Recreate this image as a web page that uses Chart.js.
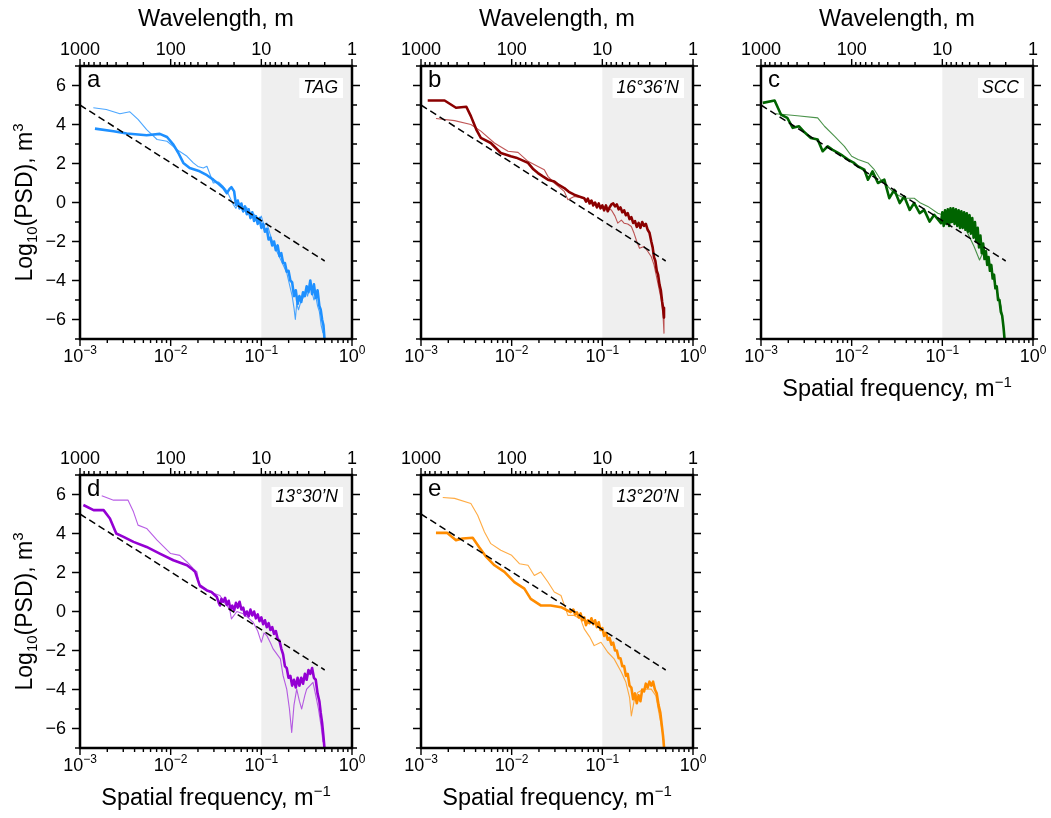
<!DOCTYPE html>
<html lang="en">
<head>
<meta charset="UTF-8">
<title>PSD spectra</title>
<script src="https://cdn.jsdelivr.net/npm/chart.js"></script>
<style>
  body { margin: 0; background: #fff; }
  #wrap { position: relative; width: 1051px; height: 818px; overflow: hidden; }
  canvas { position: absolute; }
</style>
</head>
<body>
<div id="wrap">
  <canvas id="pa" width="370" height="409" style="left:0;top:0"></canvas>
  <canvas id="pb" width="370" height="409" style="left:341px;top:0"></canvas>
  <canvas id="pc" width="370" height="409" style="left:681px;top:0"></canvas>
  <canvas id="pd" width="370" height="409" style="left:0;top:409px"></canvas>
  <canvas id="pe" width="370" height="409" style="left:341px;top:409px"></canvas>
</div>
<script>
// x values are log10 of spatial frequency (m^-1), y values are log10(PSD)
const refLogF = [-3, -0.301];
const refY = [5, -3];

const tagThickLogF = [-2.835,-2.63,-2.485,-2.265,-2.12,-2.04,-1.97,-1.915,-1.86,-1.79,-1.68,-1.6,-1.53,-1.47,-1.42,-1.38,-1.35,-1.33,
  -1.3,-1.28,-1.26,-1.24,-1.22,-1.2,-1.18,-1.16,-1.14,-1.12,-1.1,-1.08,-1.06,-1.04,-1.02,-1.0,-0.98,-0.96,-0.94,-0.92,-0.9,-0.88,-0.86,-0.84,-0.82,-0.8,-0.78,-0.76,-0.74,-0.72,-0.7,-0.68,-0.66,-0.64,-0.62,-0.6,-0.58,-0.56,-0.54,-0.52,-0.5,-0.48,-0.46,-0.44,-0.42,-0.4,-0.38,-0.36,-0.345,-0.33,-0.315,-0.3];
const tagThickY = [3.79,3.65,3.54,3.45,3.52,3.36,2.97,2.54,2.03,1.77,1.6,1.4,1.17,0.95,0.74,0.48,0.7,0.79,
  0.57,-0.12,0.1,-0.3,-0.05,-0.45,-0.2,-0.6,-0.35,-0.8,-0.5,-0.95,-0.7,-1.1,-0.8,-1.3,-1.1,-1.5,-1.35,-1.9,-1.8,-2.2,-2.0,-2.45,-2.2,-2.75,-2.6,-3.1,-3.1,-3.55,-3.5,-4.0,-4.1,-4.8,-4.5,-5.2,-4.8,-5.1,-4.6,-4.8,-4.3,-4.6,-4.0,-4.7,-4.2,-4.9,-4.5,-5.3,-5.5,-6.0,-6.3,-7.2];
const tagThinLogF = [-2.853,-2.71,-2.56,-2.45,-2.36,-2.265,-2.15,-2.04,-1.93,-1.82,-1.75,-1.7,-1.64,-1.6,-1.53,-1.47,-1.42,-1.38,-1.35,-1.31,-1.28,-1.25,-1.2,-1.16,-1.12,-1.08,-1.04,-1.0,-0.97,-0.94,-0.905,-0.87,-0.83,-0.79,-0.75,-0.72,-0.69,-0.66,-0.64,-0.625,-0.61,-0.59,-0.565,-0.54,-0.51,-0.49,-0.465,-0.44,-0.42,-0.4,-0.38,-0.36,-0.34,-0.32];
const tagThinY = [4.86,4.77,4.55,4.65,4.26,3.74,3.23,3.14,2.71,2.37,2.03,1.85,1.77,1.86,1.0,1.05,0.82,0.6,0.3,-0.1,-0.3,0.0,-0.5,-0.25,-0.8,-0.6,-1.0,-0.7,-1.2,-1.05,-1.6,-2.1,-2.5,-2.9,-3.3,-3.6,-4.2,-4.8,-5.4,-6.0,-5.2,-5.5,-5.1,-4.9,-4.5,-4.8,-4.3,-4.6,-5.0,-4.8,-5.3,-5.6,-6.3,-6.7];

const n1636ThickLogF = [-2.926,-2.74,-2.614,-2.5,-2.45,-2.39,-2.34,-2.23,-2.12,-2.06,-2.01,-1.95,-1.9,-1.82,-1.76,-1.71,-1.66,-1.6,-1.53,-1.48,-1.42,-1.37,-1.31,-1.25,
  -1.2,-1.18,-1.16,-1.14,-1.12,-1.1,-1.08,-1.06,-1.04,-1.02,-1.0,-0.98,-0.96,-0.94,-0.92,-0.9,-0.88,-0.86,-0.84,-0.82,-0.8,-0.78,-0.76,-0.74,-0.72,-0.7,-0.68,-0.66,-0.64,-0.62,-0.6,-0.58,-0.56,-0.54,-0.52,-0.5,-0.48,
  -0.46,-0.445,-0.43,-0.415,-0.4,-0.385,-0.37,-0.355,-0.34,-0.33,-0.32];
const n1636ThickY = [5.23,5.23,4.86,4.91,4.43,3.74,3.31,3.05,2.54,2.45,2.37,2.3,2.2,2.03,1.7,1.51,1.35,1.17,1.08,0.9,0.74,0.55,0.4,0.3,
  0.22,0.05,0.2,-0.05,0.1,-0.15,0.0,-0.25,-0.05,-0.3,-0.15,-0.4,-0.15,-0.45,-0.25,-0.1,-0.05,-0.2,-0.1,-0.35,-0.25,-0.5,-0.4,-0.65,-0.55,-0.85,-0.75,-1.05,-0.95,-1.25,-1.05,-1.3,-1.0,-1.2,-1.1,-1.4,-1.55,
  -2.0,-2.3,-2.8,-3.0,-3.5,-3.7,-4.2,-4.5,-5.1,-5.4,-5.9];
const n1636ThinLogF = [-2.835,-2.63,-2.45,-2.34,-2.19,-2.04,-1.93,-1.82,-1.71,-1.64,-1.6,-1.53,-1.42,-1.38,-1.31,-1.24,-1.16,-1.08,-1.01,-0.95,-0.9,-0.86,-0.83,-0.79,-0.76,-0.72,-0.68,-0.65,-0.62,-0.59,-0.54,-0.5,-0.46,-0.43,-0.41,-0.38,-0.35,-0.33,-0.32];
const n1636ThinY = [4.31,4.2,4.0,3.66,3.05,2.63,2.57,2.11,1.85,1.68,1.34,1.0,0.57,0.14,0.31,0.25,0.14,-0.05,-0.2,-0.3,-0.38,-0.7,-1.06,-0.9,-1.06,-1.1,-1.23,-1.58,-2.0,-2.35,-2.26,-2.5,-2.78,-3.2,-3.63,-4.3,-5.0,-5.8,-6.7];

const sccThickLogF = [-2.98,-2.85,-2.78,-2.71,-2.65,-2.58,-2.52,-2.45,-2.375,-2.32,-2.265,-2.21,-2.15,-2.1,-2.04,-1.98,-1.93,-1.86,-1.82,-1.77,-1.71,-1.64,-1.585,-1.53,-1.47,-1.42,-1.36,-1.31,-1.25,-1.2,-1.14,-1.09,-1.015,
  -1.0,-0.985,-0.97,-0.955,-0.94,-0.925,-0.91,-0.895,-0.88,-0.865,-0.85,-0.835,-0.82,-0.805,-0.79,-0.775,-0.76,-0.745,-0.73,-0.715,-0.7,-0.685,-0.67,-0.655,-0.64,-0.625,-0.61,-0.595,-0.58,-0.565,-0.55,-0.535,-0.52,-0.505,-0.49,-0.475,-0.46,-0.445,-0.43,-0.415,-0.4,-0.385,-0.37,-0.355,-0.34,-0.325,-0.31];
const sccThickY = [5.11,5.23,4.51,4.34,3.83,3.91,3.6,3.31,3.23,2.63,2.88,2.7,2.54,2.4,2.2,2.05,1.85,1.68,1.17,1.6,1.0,1.17,0.22,0.65,-0.03,0.31,-0.38,-0.03,-0.55,-0.38,-0.98,-0.63,-1.06,
  -0.5,-1.2,-0.4,-1.1,-0.35,-1.2,-0.3,-1.0,-0.3,-1.1,-0.35,-1.2,-0.4,-1.3,-0.45,-1.3,-0.5,-1.4,-0.55,-1.5,-0.65,-1.6,-0.8,-1.8,-1.0,-2.0,-1.3,-2.3,-1.7,-2.6,-2.1,-2.9,-2.5,-3.2,-2.8,-3.5,-3.2,-3.9,-3.7,-4.4,-4.3,-5.0,-5.0,-5.6,-5.8,-6.4,-7.2];
const sccThinLogF = [-2.835,-2.6,-2.375,-2.3,-2.19,-2.08,-2.0,-1.93,-1.82,-1.75,-1.68,-1.6,-1.53,-1.42,-1.31,-1.24,-1.16,-1.05,-0.94,-0.87,-0.79,-0.72,-0.65,-0.59,-0.555,-0.5,-0.43,-0.35,-0.32];
const sccThinY = [4.55,4.45,4.34,3.91,3.4,2.88,2.37,2.2,2.03,1.68,1.17,0.82,0.48,0.22,0.22,-0.03,-0.2,-0.55,-0.72,-0.38,-0.89,-1.58,-2.26,-2.95,-2.6,-2.78,-3.98,-5.35,-6.7];

const n1330ThickLogF = [-2.963,-2.85,-2.74,-2.67,-2.6,-2.52,-2.41,-2.265,-2.12,-1.97,-1.82,-1.77,-1.73,-1.68,-1.6,-1.55,
  -1.49,-1.47,-1.456,-1.44,-1.42,-1.4,-1.38,-1.36,-1.34,-1.32,-1.3,-1.28,-1.26,-1.24,-1.22,-1.2,-1.18,-1.16,-1.14,-1.12,-1.1,-1.08,-1.06,-1.04,-1.02,-1.0,-0.98,-0.96,-0.94,-0.92,-0.9,-0.88,-0.86,-0.84,-0.82,-0.8,-0.78,-0.76,-0.74,-0.72,-0.7,-0.68,-0.66,-0.64,-0.62,-0.6,-0.58,-0.56,-0.54,-0.52,-0.5,-0.48,-0.46,-0.44,-0.42,-0.4,-0.38,-0.36,-0.345,-0.33,-0.315,-0.3];
const n1330ThickY = [5.46,5.2,5.2,4.77,4.0,3.83,3.57,3.31,2.97,2.63,2.37,2.2,2.03,1.34,1.08,1.0,
  0.74,0.45,0.31,0.65,0.5,0.7,0.35,0.55,0.1,0.3,0.05,0.45,0.2,0.5,0.1,0.2,-0.2,0.0,-0.25,0.1,-0.2,0.0,-0.35,-0.15,-0.5,-0.3,-0.65,-0.45,-0.8,-0.6,-0.95,-0.8,-1.15,-1.0,-1.4,-1.5,-1.9,-2.2,-2.8,-2.9,-3.4,-3.3,-3.8,-3.5,-3.9,-3.4,-3.8,-3.4,-3.7,-3.2,-3.5,-3.0,-3.2,-2.9,-3.4,-3.5,-4.2,-4.6,-5.2,-5.7,-6.4,-7.2];
const n1330ThinLogF = [-2.76,-2.63,-2.47,-2.41,-2.36,-2.265,-2.15,-2.0,-1.9,-1.82,-1.75,-1.71,-1.68,-1.57,-1.456,-1.4,-1.35,-1.33,-1.27,-1.2,-1.15,-1.09,-1.04,-1.0,-0.97,-0.94,-0.9,-0.87,-0.79,-0.76,-0.72,-0.69,-0.665,-0.64,-0.61,-0.58,-0.555,-0.52,-0.5,-0.43,-0.4,-0.37,-0.34,-0.32];
const n1330ThinY = [5.94,5.71,5.71,5.11,4.43,4.26,3.66,2.97,2.88,2.54,2.2,2.03,1.25,1.0,0.82,0.4,0.14,-0.38,0.0,-0.12,-0.3,-0.55,-1.0,-1.58,-1.1,-1.23,-1.6,-1.92,-2.43,-3.29,-3.98,-5.0,-6.2,-4.8,-3.98,-4.6,-5.0,-4.3,-3.98,-3.63,-4.3,-5.0,-5.9,-6.7];

const n1320ThickLogF = [-2.835,-2.71,-2.614,-2.54,-2.43,-2.36,-2.28,-2.19,-2.08,-1.97,-1.86,-1.79,-1.68,-1.57,-1.456,
  -1.35,-1.32,-1.3,-1.28,-1.26,-1.24,-1.22,-1.2,-1.18,-1.16,-1.14,-1.12,-1.1,-1.08,-1.06,-1.04,-1.02,-1.0,-0.98,-0.96,-0.94,-0.92,-0.9,-0.88,-0.86,-0.84,-0.82,-0.8,-0.78,-0.76,-0.74,-0.72,-0.7,-0.68,-0.66,-0.64,-0.62,-0.6,-0.58,-0.56,-0.54,-0.52,-0.5,-0.48,-0.46,-0.44,-0.42,-0.4,-0.38,-0.36,-0.345,-0.33,-0.315];
const n1320ThickY = [4.03,4.03,3.66,3.74,3.78,3.31,2.8,2.37,2.03,1.51,1.17,0.65,0.31,0.31,0.22,
  -0.03,0.1,-0.15,-0.05,-0.3,-0.1,-0.45,-0.3,-0.7,-0.45,-0.6,-0.35,-0.65,-0.45,-0.8,-0.55,-0.95,-0.85,-1.25,-1.1,-1.45,-1.35,-1.7,-1.6,-2.0,-2.0,-2.4,-2.4,-2.8,-2.8,-3.3,-3.2,-3.8,-3.9,-4.5,-4.2,-4.7,-4.3,-4.6,-4.0,-4.1,-3.7,-3.9,-3.6,-3.8,-3.6,-4.0,-4.2,-4.8,-5.2,-5.8,-6.4,-7.2];
const n1320ThinLogF = [-2.76,-2.63,-2.45,-2.375,-2.3,-2.23,-2.12,-2.0,-1.915,-1.82,-1.75,-1.68,-1.6,-1.53,-1.456,-1.38,-1.31,-1.24,-1.2,-1.14,-1.09,-1.015,-0.94,-0.87,-0.79,-0.74,-0.7,-0.68,-0.65,-0.61,-0.54,-0.46,-0.41,-0.37,-0.34,-0.32];
const n1320ThinY = [5.85,5.8,5.54,4.94,4.08,3.48,3.14,2.88,2.45,2.37,1.85,2.03,1.51,1.0,0.82,-0.2,-0.2,-0.38,-0.89,-1.3,-1.75,-1.58,-2.09,-2.43,-3.12,-3.63,-4.4,-5.35,-4.6,-4.15,-3.98,-3.98,-4.32,-5.35,-6.1,-6.7];

// axis ticks
const bottomExps = [-3, -2, -1, 0];
const topWavelengths = [1000, 100, 10, 1];
const topLabels = ['1000', '100', '10', '1'];
const yLabelValues = [6, 4, 2, 0, -2, -4, -6];
const shadeFrom = 0.1;

const FONT = '"Liberation Sans", Arial, Helvetica, sans-serif';

function pts(logF, ys) {
  return logF.map((lf, i) => ({ x: Math.pow(10, lf), y: ys[i] }));
}

// text made of several pieces (for sub/superscripts)
function richText(ctx, parts, x, y, align) {
  let w = 0;
  parts.forEach(p => { ctx.font = p.font; w += ctx.measureText(p.t).width; });
  let cx = align === 'center' ? x - w / 2 : x;
  parts.forEach(p => {
    ctx.font = p.font;
    ctx.fillText(p.t, cx, y + (p.dy || 0));
    cx += ctx.measureText(p.t).width;
  });
}

const framePlugin = {
  id: 'psdFrame',
  beforeDatasetsDraw(chart) {
    const { ctx, chartArea: a, scales: { x } } = chart;
    const x0 = x.getPixelForValue(shadeFrom);
    ctx.save();
    ctx.fillStyle = '#efefef';
    ctx.fillRect(x0, a.top, a.right - x0, a.bottom - a.top);
    ctx.restore();
  },
  afterDraw(chart, args, opts) {
    const { ctx, chartArea: a, scales: { x, y } } = chart;
    ctx.save();
    ctx.strokeStyle = '#000';
    ctx.fillStyle = '#000';

    // ticks
    ctx.lineWidth = 1.4;
    ctx.beginPath();
    for (let e = -3; e <= 0; e++) {
      for (let m = 1; m <= 9; m++) {
        if (e === 0 && m > 1) break;
        const px = x.getPixelForValue(m * Math.pow(10, e));
        const len = m === 1 ? 7 : 4;
        ctx.moveTo(px, a.bottom); ctx.lineTo(px, a.bottom + len);
      }
    }
    for (let e = 0; e <= 3; e++) {
      for (let m = 1; m <= 9; m++) {
        if (e === 3 && m > 1) break;
        const px = x.getPixelForValue(1 / (m * Math.pow(10, e)));
        const len = m === 1 ? 7 : 4;
        ctx.moveTo(px, a.top); ctx.lineTo(px, a.top - len);
      }
    }
    for (let v = -7; v <= 7; v++) {
      const py = y.getPixelForValue(v);
      const len = v % 2 === 0 ? 8 : 5;
      ctx.moveTo(a.left, py); ctx.lineTo(a.left - len, py);
      ctx.moveTo(a.right, py); ctx.lineTo(a.right + len, py);
    }
    ctx.stroke();

    // frame
    ctx.lineWidth = 2.5;
    ctx.strokeRect(a.left, a.top, a.right - a.left, a.bottom - a.top);

    // top tick labels
    ctx.font = '18px ' + FONT;
    ctx.textAlign = 'center';
    ctx.textBaseline = 'alphabetic';
    topWavelengths.forEach((w, i) => {
      ctx.fillText(topLabels[i], x.getPixelForValue(1 / w), a.top - 11);
    });

    // bottom tick labels
    ctx.textAlign = 'left';
    bottomExps.forEach(e => {
      const lbl = e < 0 ? '\u2212' + (-e) : String(e);
      richText(ctx, [
        { t: '10', font: '18px ' + FONT },
        { t: lbl, font: '12px ' + FONT, dy: -8 }
      ], x.getPixelForValue(Math.pow(10, e)), a.bottom + 23, 'center');
    });

    // y tick labels and title
    if (opts.yLabels) {
      ctx.font = '18px ' + FONT;
      ctx.textAlign = 'right';
      ctx.textBaseline = 'middle';
      yLabelValues.forEach(v => {
        const s = v < 0 ? '\u2212' + (-v) : String(v);
        ctx.fillText(s, a.left - 14, y.getPixelForValue(v) + 1);
      });
      ctx.save();
      ctx.translate(a.left - 48, (a.top + a.bottom) / 2);
      ctx.rotate(-Math.PI / 2);
      ctx.textBaseline = 'alphabetic';
      ctx.textAlign = 'left';
      richText(ctx, [
        { t: 'Log', font: '23px ' + FONT },
        { t: '10', font: '15px ' + FONT, dy: 5 },
        { t: '(PSD), m', font: '23px ' + FONT },
        { t: '3', font: '15px ' + FONT, dy: -9 }
      ], 0, 0, 'center');
      ctx.restore();
    }

    ctx.textBaseline = 'alphabetic';
    ctx.textAlign = 'left';
    const cx = (a.left + a.right) / 2;
    if (opts.topTitle) {
      ctx.font = '23.5px ' + FONT;
      ctx.textAlign = 'center';
      ctx.fillText('Wavelength, m', cx, a.top - 40);
      ctx.textAlign = 'left';
    }
    if (opts.bottomTitle) {
      richText(ctx, [
        { t: 'Spatial frequency, m', font: '23.5px ' + FONT },
        { t: '\u22121', font: '15px ' + FONT, dy: -9 }
      ], cx, a.bottom + 57, 'center');
    }

    // panel letter
    ctx.font = '24px ' + FONT;
    ctx.textAlign = 'left';
    ctx.fillText(opts.letter, a.left + 7, a.top + 21);

    // site label in white box
    ctx.font = 'italic 17.5px ' + FONT;
    const tw = ctx.measureText(opts.site).width;
    const tr = a.right - 14;
    ctx.fillStyle = '#fff';
    ctx.fillRect(tr - tw - 4, a.top + 12, tw + 9, 20);
    ctx.fillStyle = '#000';
    ctx.textAlign = 'right';
    ctx.fillText(opts.site, tr, a.top + 27);

    ctx.restore();
  }
};

function makePanel(id, p) {
  return new Chart(document.getElementById(id), {
    type: 'line',
    data: {
      datasets: [
        { data: pts(refLogF, refY), borderColor: '#000', borderWidth: 1.5, borderDash: [7, 4] },
        { data: pts(p.thickF, p.thickY), borderColor: p.color, borderWidth: 2.6 },
        { data: pts(p.thinF, p.thinY), borderColor: p.thin, borderWidth: 1.1 }
      ]
    },
    options: {
      responsive: false,
      animation: false,
      events: [],
      layout: { padding: { left: 80, top: 66, right: 18, bottom: 70 } },
      elements: { point: { radius: 0 }, line: { tension: 0, borderJoinStyle: 'round' } },
      scales: {
        x: { type: 'logarithmic', min: 0.001, max: 1, display: false },
        y: { type: 'linear', min: -7, max: 7, display: false }
      },
      plugins: {
        legend: { display: false },
        tooltip: { enabled: false },
        psdFrame: { letter: p.letter, site: p.site, yLabels: p.yLabels, topTitle: p.topTitle, bottomTitle: p.bottomTitle }
      }
    },
    plugins: [framePlugin]
  });
}

makePanel('pa', { letter: 'a', site: 'TAG', color: 'rgb(30,144,255)', thin: 'rgba(30,144,255,0.8)',
  thickF: tagThickLogF, thickY: tagThickY, thinF: tagThinLogF, thinY: tagThinY,
  yLabels: true, topTitle: true, bottomTitle: false });
makePanel('pb', { letter: 'b', site: '16\u00b036\u2019N', color: 'rgb(139,0,0)', thin: 'rgba(170,30,30,0.75)',
  thickF: n1636ThickLogF, thickY: n1636ThickY, thinF: n1636ThinLogF, thinY: n1636ThinY,
  yLabels: false, topTitle: true, bottomTitle: false });
makePanel('pc', { letter: 'c', site: 'SCC', color: 'rgb(0,100,0)', thin: 'rgba(30,120,30,0.8)',
  thickF: sccThickLogF, thickY: sccThickY, thinF: sccThinLogF, thinY: sccThinY,
  yLabels: false, topTitle: true, bottomTitle: true });
makePanel('pd', { letter: 'd', site: '13\u00b030\u2019N', color: 'rgb(148,0,211)', thin: 'rgba(160,40,220,0.75)',
  thickF: n1330ThickLogF, thickY: n1330ThickY, thinF: n1330ThinLogF, thinY: n1330ThinY,
  yLabels: true, topTitle: false, bottomTitle: true });
makePanel('pe', { letter: 'e', site: '13\u00b020\u2019N', color: 'rgb(255,140,0)', thin: 'rgba(255,150,20,0.8)',
  thickF: n1320ThickLogF, thickY: n1320ThickY, thinF: n1320ThinLogF, thinY: n1320ThinY,
  yLabels: false, topTitle: false, bottomTitle: true });
</script>
</body>
</html>
